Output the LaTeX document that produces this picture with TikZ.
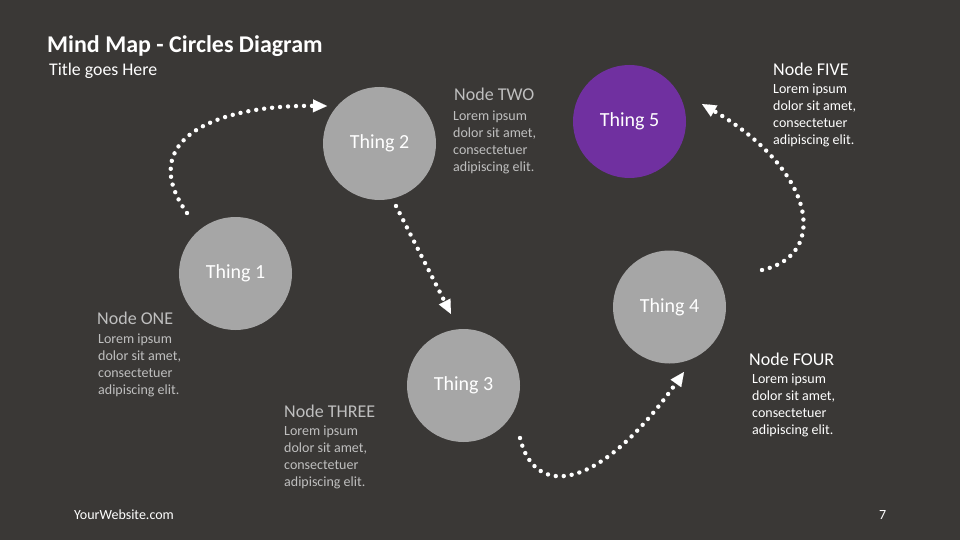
\documentclass[tikz,border=0pt]{standalone}
\usepackage{fontspec}
\setmainfont{Carlito}
\usetikzlibrary{arrows.meta}
\definecolor{bg}{HTML}{3A3836}
\definecolor{circ}{HTML}{A6A6A6}
\definecolor{purp}{HTML}{7030A0}
\definecolor{lgray}{HTML}{BFBFBF}
\begin{document}
\begin{tikzpicture}[x=1pt,y=-1pt,
  thing/.style={circle, fill=circ, minimum size=113pt, inner sep=0pt, text=white, font=\fontsize{20}{24}\selectfont},
  head/.style={anchor=west, inner sep=0pt, font=\fontsize{18}{21}\selectfont},
  body/.style={anchor=north west, inner sep=0pt, align=left, font=\fontsize{14}{16.9}\selectfont},
  flow/.style={white, line width=4.4pt, line cap=round, dash pattern=on 0pt off 8pt,
    -{Triangle[length=14pt,width=13pt,line width=0.1pt]}},
  small/.style={anchor=west, inner sep=0pt, text=white, font=\fontsize{14}{16}\selectfont}]
\fill[bg] (0,0) rectangle (960,540);
\useasboundingbox (0,0) rectangle (960,540);

% titles
\node[anchor=west, inner sep=0pt, text=white, font=\bfseries\fontsize{24}{28}\selectfont] (title) at (47,46.5) {Mind Map - Circles Diagram};
\node[anchor=west, inner sep=0pt, text=white, font=\fontsize{17.8}{20}\selectfont] (subtitle) at (49,70.5) {Title goes Here};

% circles
\node[thing] (t1) at (235.5,273.5) {Thing 1};
\node[thing] (t2) at (379.5,143.5) {Thing 2};
\node[thing] (t3) at (463.5,385.5) {Thing 3};
\node[thing] (t4) at (669.5,307) {Thing 4};
\node[thing, fill=purp] (t5) at (629.5,121.5) {Thing 5};

% node texts
\node[head, text=lgray] (h2) at (454,94) {Node TWO};
\node[body, text=lgray] (b2) at (453,110.5) {Lorem ipsum\\dolor sit amet,\\consectetuer\\adipiscing elit.};
\node[head, text=white] (h5) at (773,69) {Node FIVE};
\node[body, text=white] (b5) at (773,83.5) {Lorem ipsum\\dolor sit amet,\\consectetuer\\adipiscing elit.};
\node[head, text=lgray] (h1) at (97,318) {Node ONE};
\node[body, text=lgray] (b1) at (98,333.5) {Lorem ipsum\\dolor sit amet,\\consectetuer\\adipiscing elit.};
\node[head, text=lgray] (h3) at (284,411) {Node THREE};
\node[body, text=lgray] (b3) at (284,425.5) {Lorem ipsum\\dolor sit amet,\\consectetuer\\adipiscing elit.};
\node[head, text=white] (h4) at (749,359) {Node FOUR};
\node[body, text=white] (b4) at (752,373.5) {Lorem ipsum\\dolor sit amet,\\consectetuer\\adipiscing elit.};

\node[small] (web) at (74,515) {YourWebsite.com};
\node[small] (pg) at (879,515) {7};

% connectors
\coordinate (a1s) at (187,213);
\coordinate (a1e) at (327,106);
\coordinate (a2s) at (396,206);
\coordinate (a2e) at (451,314);
\coordinate (a3s) at (520,438);
\coordinate (a3e) at (684,372);
\coordinate (a4s) at (762,270);
\coordinate (a4e) at (702,104);

\draw[flow] (a1s) .. controls (135,140) and (215,105) .. (a1e);
\draw[flow] (a2s) -- (a2e);
\draw[flow] (a3s) .. controls (535,500) and (600,490) .. (a3e);
\draw[flow] (a4s) .. controls (830,255) and (815,170) .. (a4e);
\end{tikzpicture}
\end{document}
